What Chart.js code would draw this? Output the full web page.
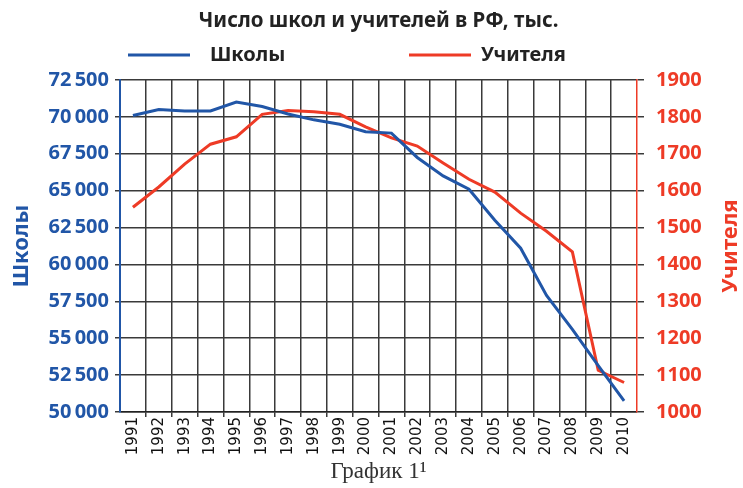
<!DOCTYPE html>
<html>
<head>
<meta charset="utf-8">
<script src="https://cdn.jsdelivr.net/npm/chart.js@4.4.0/dist/chart.umd.min.js"></script>
<style>
  html, body { margin: 0; padding: 0; background: #fff; }
  #wrap { width: 743px; height: 488px; }
</style>
</head>
<body>
<div id="wrap"><canvas id="chart" width="743" height="488"></canvas></div>
<script>
const years = ['1991', '1992', '1993', '1994', '1995', '1996', '1997', '1998', '1999', '2000',
               '2001', '2002', '2003', '2004', '2005', '2006', '2007', '2008', '2009', '2010'];
// число школ
const schools = [70100, 70500, 70400, 70400, 71000, 70700, 70200, 69800, 69500, 69000,
                 68900, 67250, 66000, 65100, 63000, 61100, 57900, 55600, 53150, 50750];
// число учителей, тыс.
const teachers = [1555, 1610, 1672, 1726, 1746, 1807, 1817, 1814, 1807, 1773,
                  1743, 1721, 1675, 1631, 1596, 1539, 1490, 1434, 1113, 1080];

const BLUE = '#2156a7';
const RED = '#ee3b26';
const GRID = '#3a3a3a';
const FONT = '"Noto Sans", sans-serif';

// 72500 -> "72 500" (тонкий пробел)
const fmt = v => String(v).replace(/\B(?=(\d{3})+(?!\d))/g, '\u2009');

// легенда и подпись правой оси
const overlay = {
  id: 'overlay',
  afterDraw(chart) {
    const { ctx, chartArea } = chart;
    const ds = chart.data.datasets;
    ctx.save();
    ctx.lineWidth = 3;
    ctx.font = 'bold 20px ' + FONT;
    ctx.textBaseline = 'middle';
    ctx.fillStyle = '#222';

    ctx.strokeStyle = ds[0].borderColor;
    ctx.beginPath(); ctx.moveTo(128, 55); ctx.lineTo(190, 55); ctx.stroke();
    ctx.fillText(ds[0].label, 210, 55);

    ctx.strokeStyle = ds[1].borderColor;
    ctx.beginPath(); ctx.moveTo(409, 55); ctx.lineTo(471, 55); ctx.stroke();
    ctx.fillText(ds[1].label, 481, 55);

    ctx.translate(731, (chartArea.top + chartArea.bottom) / 2);
    ctx.rotate(-Math.PI / 2);
    ctx.textAlign = 'center';
    ctx.fillStyle = RED;
    ctx.font = 'bold 22px ' + FONT;
    ctx.fillText('Учителя', 0, 0);
    ctx.restore();
  }
};

new Chart(document.getElementById('chart'), {
  type: 'line',
  data: {
    labels: years,
    datasets: [
      { label: 'Школы', data: schools, yAxisID: 'y', borderColor: BLUE, borderWidth: 3,
        pointRadius: 0, tension: 0 },
      { label: 'Учителя', data: teachers, yAxisID: 'y1', borderColor: RED, borderWidth: 3,
        pointRadius: 0, tension: 0 }
    ]
  },
  options: {
    responsive: false,
    animation: false,
    layout: { padding: 0 },
    plugins: {
      legend: { display: false },
      tooltip: { enabled: false },
      title: {
        display: true,
        fullSize: false,
        text: 'Число школ и учителей в РФ, тыс.',
        color: '#222',
        font: { family: FONT, size: 20.5, weight: 'bold', lineHeight: 1.2 },
        padding: { top: 9, bottom: 46.4 }
      },
      subtitle: {
        display: true,
        position: 'bottom',
        fullSize: false,
        text: 'График 1\u00B9',
        color: '#333',
        font: { family: '"Liberation Serif", serif', size: 23, lineHeight: 1 },
        padding: { top: 4, bottom: 5 }
      }
    },
    scales: {
      x: {
        offset: true,
        grid: {
          offset: true,
          lineWidth: 1.5,
          tickLength: 5,
          color: c => (c.type !== 'tick' || c.index === 0) ? 'rgba(0,0,0,0)' : GRID
        },
        border: { color: '#222', width: 1.5 },
        ticks: {
          autoSkip: false, minRotation: 90, maxRotation: 90, padding: 0,
          color: '#111', font: { family: '"DejaVu Sans", sans-serif', size: 15 }
        },
        afterFit: s => { s.height = 44; }
      },
      y: {
        position: 'left',
        min: 50000, max: 72500,
        grid: { color: GRID, lineWidth: 1.5, tickLength: 5 },
        border: { color: BLUE, width: 2 },
        ticks: {
          stepSize: 2500, padding: 6, color: BLUE,
          font: { family: FONT, size: 20, weight: 'bold' },
          callback: v => fmt(v)
        },
        title: {
          display: true, text: 'Школы', color: BLUE,
          font: { family: FONT, size: 22, weight: 'bold' },
          padding: { top: 9, bottom: 0 }
        },
        afterFit: s => { s.width = 120; }
      },
      y1: {
        position: 'right',
        min: 1000, max: 1900,
        grid: { drawOnChartArea: false, color: GRID, lineWidth: 1.5, tickLength: 7 },
        border: { color: RED, width: 1.5 },
        ticks: {
          stepSize: 100, padding: 12, color: RED,
          font: { family: FONT, size: 20, weight: 'bold' },
          callback: v => String(v)
        },
        afterFit: s => { s.width = 106; }
      }
    }
  },
  plugins: [overlay]
});
</script>
</body>
</html>
